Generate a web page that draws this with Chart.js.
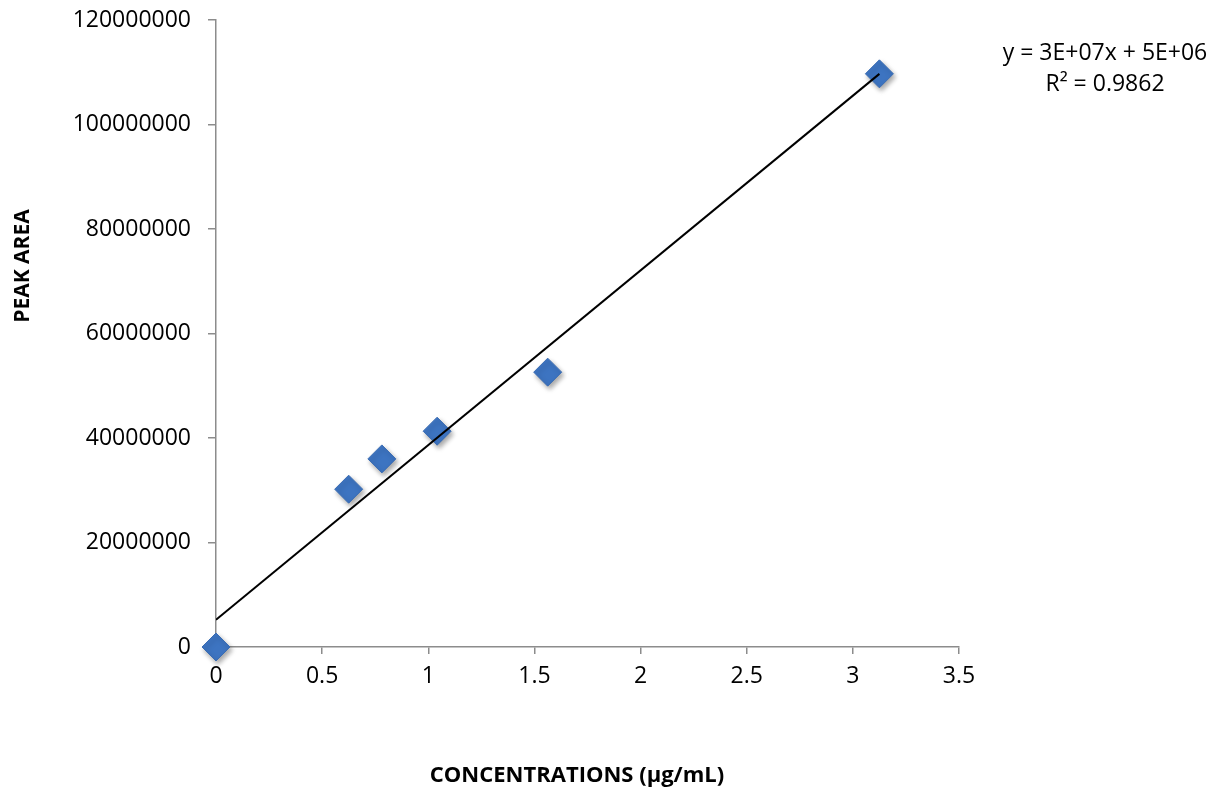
<!DOCTYPE html>
<html>
<head>
<meta charset="utf-8">
<script src="https://cdn.jsdelivr.net/npm/chart.js@4.4.1/dist/chart.umd.min.js"></script>
<style>
  html, body { margin: 0; padding: 0; background: #ffffff; }
  #wrap { width: 1225px; height: 798px; }
</style>
</head>
<body>
<div id="wrap"><canvas id="c" width="1225" height="798"></canvas></div>
<script>
// Calibration standards: concentration (µg/mL) and measured peak area
const concentrations = [0, 0.625, 0.78125, 1.0417, 1.5625, 3.125];
const peakAreas = [0, 30200000, 36000000, 41300000, 52600000, 109700000];

const xTicks = [0, 0.5, 1, 1.5, 2, 2.5, 3, 3.5];
const yTicks = [0, 20000000, 40000000, 60000000, 80000000, 100000000, 120000000];

const xTitle = 'CONCENTRATIONS (µg/mL)';
const yTitle = 'PEAK AREA';

// Least-squares linear fit
function linearFit(xs, ys) {
  const n = xs.length;
  const mx = xs.reduce((a, b) => a + b, 0) / n;
  const my = ys.reduce((a, b) => a + b, 0) / n;
  let sxx = 0, sxy = 0, syy = 0;
  for (let i = 0; i < n; i++) {
    sxx += (xs[i] - mx) ** 2;
    sxy += (xs[i] - mx) * (ys[i] - my);
    syy += (ys[i] - my) ** 2;
  }
  const slope = sxy / sxx;
  const intercept = my - slope * mx;
  return { slope, intercept, r2: (sxy * sxy) / (sxx * syy) };
}
const fit = linearFit(concentrations, peakAreas);

// Spreadsheet-style scientific notation, e.g. 3E+07
function sci(v) {
  const [m, e] = v.toExponential(0).split('e');
  const ev = parseInt(e, 10);
  return m + 'E' + (ev < 0 ? '-' : '+') + String(Math.abs(ev)).padStart(2, '0');
}
const equationText = 'y = ' + sci(fit.slope) + 'x + ' + sci(fit.intercept);
const r2Text = 'R² = ' + fit.r2.toFixed(4);

const xMin = Math.min(...concentrations), xMax = Math.max(...concentrations);
const trendPoints = [
  { x: xMin, y: fit.slope * xMin + fit.intercept },
  { x: xMax, y: fit.slope * xMax + fit.intercept }
];

const points = concentrations.map((c, i) => ({ x: c, y: peakAreas[i] }));

const FONT = "'Open Sans', 'Liberation Sans', sans-serif";
const AXIS_GREY = '#8c8c8c';

// Soft drop shadow under the markers
const markerShadow = {
  id: 'markerShadow',
  beforeDatasetDraw(chart, args) {
    if (args.index !== 0) return;
    const ctx = chart.ctx;
    ctx.save();
    ctx.shadowColor = 'rgba(0,0,0,0.35)';
    ctx.shadowBlur = 5;
    ctx.shadowOffsetX = 2;
    ctx.shadowOffsetY = 3;
  },
  afterDatasetDraw(chart, args) {
    if (args.index !== 0) return;
    chart.ctx.restore();
  }
};

// Axis titles and the fitted-equation annotation
const annotations = {
  id: 'annotations',
  afterDraw(chart) {
    const ctx = chart.ctx;
    ctx.save();
    ctx.fillStyle = '#000';
    ctx.textAlign = 'center';
    ctx.textBaseline = 'middle';

    ctx.font = 'bold 22px ' + FONT;
    ctx.fillText(xTitle, 577, 776);

    ctx.font = 'bold 21px ' + FONT;
    ctx.save();
    ctx.translate(23, 266);
    ctx.rotate(-Math.PI / 2);
    ctx.fillText(yTitle, 0, 0);
    ctx.restore();

    ctx.font = '23px ' + FONT;
    ctx.fillText(equationText, 1105, 53);
    ctx.fillText(r2Text, 1105, 84);
    ctx.restore();
  }
};

new Chart(document.getElementById('c'), {
  data: {
    datasets: [
      {
        type: 'scatter',
        label: 'Peak area',
        data: points,
        pointStyle: 'rectRot',
        pointRadius: 14,
        pointHoverRadius: 14,
        backgroundColor: '#3d74c1',
        borderColor: '#3a6cb3',
        borderWidth: 1,
        clip: false,
        order: 2
      },
      {
        type: 'line',
        label: 'Linear fit',
        data: trendPoints,
        borderColor: '#000000',
        borderWidth: 2,
        pointRadius: 0,
        fill: false,
        tension: 0,
        order: 1
      }
    ]
  },
  options: {
    responsive: false,
    animation: false,
    devicePixelRatio: 1,
    layout: { padding: { left: 0, top: 20, right: 266, bottom: 0 } },
    plugins: {
      legend: { display: false },
      tooltip: { enabled: false }
    },
    scales: {
      x: {
        type: 'linear',
        min: 0,
        max: 3.5,
        afterBuildTicks(scale) { scale.ticks = xTicks.map(v => ({ value: v })); },
        afterFit(scale) {
          scale.height = 151;
          scale.paddingLeft = 0;
          scale.paddingRight = 0;
        },
        ticks: {
          color: '#000',
          font: { family: FONT, size: 23 },
          padding: 9,
          maxRotation: 0,
          callback: v => String(v)
        },
        grid: { drawOnChartArea: false, drawTicks: true, tickLength: 7, color: AXIS_GREY, lineWidth: 1.5 },
        border: { display: true, color: AXIS_GREY, width: 1.5 }
      },
      y: {
        type: 'linear',
        min: 0,
        max: 120000000,
        afterBuildTicks(scale) { scale.ticks = yTicks.map(v => ({ value: v })); },
        afterFit(scale) {
          scale.width = 216;
          scale.paddingTop = 0;
          scale.paddingBottom = 0;
        },
        ticks: {
          color: '#000',
          font: { family: FONT, size: 23 },
          padding: 17,
          callback: v => String(v)
        },
        grid: { drawOnChartArea: false, drawTicks: true, tickLength: 8, color: AXIS_GREY, lineWidth: 1.5 },
        border: { display: true, color: AXIS_GREY, width: 1.5 }
      }
    }
  },
  plugins: [markerShadow, annotations]
});
</script>
</body>
</html>
